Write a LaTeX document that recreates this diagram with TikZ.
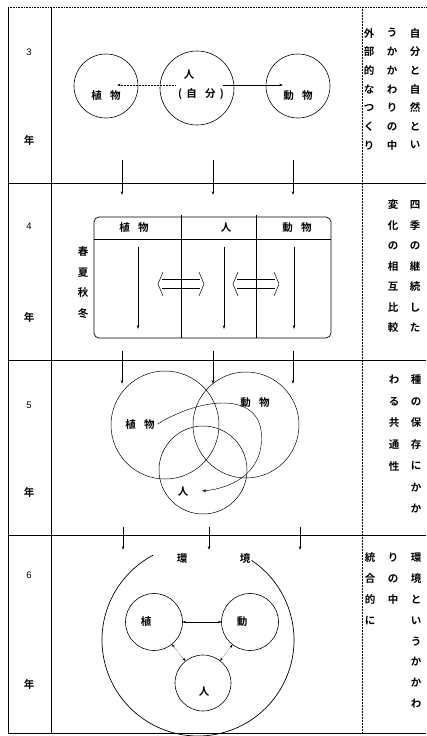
\documentclass[tikz,border=0pt]{standalone}
\usepackage{fontspec}
\newfontfamily\jp{Noto Sans CJK JP}[BoldFont={Noto Sans CJK JP Bold}]
\usetikzlibrary{arrows.meta,calc}
\begin{document}
\begin{tikzpicture}[x=1pt,y=-1pt,
  every node/.style={inner sep=0pt,outer sep=0pt},
  jtext/.style={font=\jp\bfseries\fontsize{10.5}{12}\selectfont},
  numtext/.style={font=\fontspec{Liberation Sans}\fontsize{9.5}{11}\selectfont},
  ring/.style={draw,circle,line width=0.6pt,minimum size=#1},
  arr/.style={-{Stealth[length=4pt,width=2.6pt]},line width=0.5pt},
  darr/.style={{Stealth[length=3.5pt,width=2.4pt]}-{Stealth[length=3.5pt,width=2.4pt]},line width=0.45pt},
  frame/.style={line width=0.9pt},
  sep/.style={line width=0.6pt}
]
\useasboundingbox (0,0) rectangle (426,736);
\fill[white] (0,0) rectangle (426,736);
% frame
\draw[frame] (8,7) -- (8,733);
\draw[frame] (51,7) -- (51,733);
\draw[sep,densely dotted] (8,7) -- (426,7);
\draw[frame] (8,733) -- (426,733);
\draw[sep] (8,183) -- (426,183);
\draw[sep] (8,360) -- (426,360);
\draw[sep] (8,535) -- (426,535);
\draw[densely dotted,line width=0.5pt] (362,7) -- (362,733);
% year labels
\node[numtext] (y3) at (29,52) {3};
\node[jtext] (y3n) at (29,140) {年};
\node[numtext] (y4) at (29,226) {4};
\node[jtext] (y4n) at (29,317) {年};
\node[numtext] (y5) at (29,405) {5};
\node[jtext] (y5n) at (29,492) {年};
\node[numtext] (y6) at (29,575) {6};
\node[jtext] (y6n) at (29,684) {年};
% right text columns
\foreach \c [count=\i] in {自,分,と,自,然,と,い}
  \node[jtext] (ra\i) at (415,{33+18.7*(\i-1)}) {\c};
\foreach \c [count=\i] in {う,か,か,わ,り,の,中}
  \node[jtext] (rb\i) at (392,{33+18.7*(\i-1)}) {\c};
\foreach \c [count=\i] in {外,部,的,な,つ,く,り}
  \node[jtext] (rc\i) at (369,{33+18.7*(\i-1)}) {\c};
\foreach \c [count=\i] in {四,季,の,継,続,し,た}
  \node[jtext] (sa\i) at (415,{205+20.5*(\i-1)}) {\c};
\foreach \c [count=\i] in {変,化,の,相,互,比,較}
  \node[jtext] (sb\i) at (393,{205+20.5*(\i-1)}) {\c};
\foreach \c [count=\i] in {種,の,保,存,に,か,か}
  \node[jtext] (ta\i) at (416,{380+21.5*(\i-1)}) {\c};
\foreach \c [count=\i] in {わ,る,共,通,性}
  \node[jtext] (tb\i) at (394,{380+21.5*(\i-1)}) {\c};
\foreach \c [count=\i] in {環,境,と,い,う,か,か,わ}
  \node[jtext] (ua\i) at (416,{558+20.8*(\i-1)}) {\c};
\foreach \c [count=\i] in {り,の,中}
  \node[jtext] (ub\i) at (393,{558+20.8*(\i-1)}) {\c};
\foreach \c [count=\i] in {統,合,的,に}
  \node[jtext] (uc\i) at (370,{558+20.8*(\i-1)}) {\c};

% ===== row 3 =====
\node[ring=64pt] (c3p) at (106,86) {};
\node[ring=74pt] (c3h) at (197,88) {};
\node[ring=64pt] (c3a) at (298,86) {};
\node[jtext] (l3p) at (106,96) {植\hspace{0.8em}物};
\node[jtext] (l3h) at (189,75) {人};
\node[jtext] (l3s) at (201,94) {(\hspace{0.4em}自\hspace{0.8em}分\hspace{0.4em})};
\node[jtext] (l3a) at (298,96) {動\hspace{0.8em}物};
\coordinate (a3l1) at (175,85);
\coordinate (a3l2) at (117,85);
\coordinate (a3r1) at (223,85);
\coordinate (a3r2) at (283,85);
\draw[arr,densely dotted,line width=0.6pt] (a3l1) -- (a3l2);
\draw[arr] (a3r1) -- (a3r2);
% arrows 3 -> 4
\foreach \x [count=\i] in {122,213,293}{
  \coordinate (d34s\i) at (\x,160);
  \coordinate (d34e\i) at (\x,195);
  \draw[arr,line width=0.7pt] (d34s\i) -- (d34e\i);
}

% ===== row 4 =====
\draw[line width=0.7pt,rounded corners=5pt] (94,217) rectangle (331,338);
\draw[line width=0.6pt] (94,239) -- (331,239);
\draw[line width=0.9pt] (181,215) -- (181,338);
\draw[line width=0.9pt] (256,215) -- (256,338);
\node[jtext] (h4p) at (134,228) {植\hspace{0.8em}物};
\node[jtext] (h4h) at (226,228) {人};
\node[jtext] (h4a) at (297,228) {動\hspace{0.8em}物};
\foreach \c [count=\i] in {春,夏,秋,冬}
  \node[jtext] (s4\i) at (83,{252+20.5*(\i-1)}) {\c};
\foreach \x [count=\i] in {138,224,294}{
  \coordinate (v4s\i) at (\x,247);
  \coordinate (v4e\i) at (\x,329);
  \draw[arr] (v4s\i) -- (v4e\i);
}
% double chevrons
\foreach \cx in {181,256}{
  \draw[line width=0.5pt] (\cx-18,272) -- (\cx-23,284) -- (\cx-18,296);
  \draw[line width=0.5pt] (\cx+18,272) -- (\cx+23,284) -- (\cx+18,296);
  \draw[line width=0.5pt] (\cx-19,279.5) -- (\cx+19,279.5);
  \draw[line width=0.5pt] (\cx-19,288.5) -- (\cx+19,288.5);
}
% arrows 4 -> 5
\foreach \x [count=\i] in {122,213,293}{
  \coordinate (d45s\i) at (\x,351);
  \coordinate (d45e\i) at (\x,384);
  \draw[arr,line width=0.7pt] (d45s\i) -- (d45e\i);
}

% ===== row 5 =====
\node[ring=108pt,line width=0.5pt] (c5p) at (165,425) {};
\node[ring=106pt,line width=0.5pt] (c5a) at (246,425) {};
\node[ring=88pt,line width=0.5pt] (c5h) at (203,470) {};
\node[jtext] (l5p) at (140,425) {植\hspace{0.8em}物};
\node[jtext] (l5a) at (255,403) {動\hspace{0.8em}物};
\node[jtext] (l5h) at (183,492) {人};
\draw[arr,line width=0.45pt] (l5p.east) ++(3,-1) .. controls (200,398) and (255,392) .. (261,430)
   .. controls (266,470) and (235,488) .. (202,491);
% arrows 5 -> 6
\foreach \x [count=\i] in {123,209,300}{
  \coordinate (d56s\i) at (\x,527);
  \coordinate (d56e\i) at (\x,550);
  \draw[arr,line width=0.7pt] (d56s\i) -- (d56e\i);
}

% ===== row 6 =====
\coordinate (bigc) at (198,640);
\draw[line width=0.7pt] (bigc) ++(-56:96) arc[start angle=-56,end angle=242,radius=96];
\node[jtext] (env1) at (182,559) {環};
\node[jtext] (env2) at (245,559) {境};
\node[ring=57pt] (c6p) at (154,622) {};
\node[ring=57pt] (c6a) at (250,622) {};
\node[ring=56pt] (c6h) at (203,683) {};
\node[jtext] (l6p) at (146,622) {植};
\node[jtext] (l6a) at (242,622) {動};
\node[jtext] (l6h) at (204,692) {人};
\draw[darr] (c6p) -- (c6a);
\draw[darr,densely dotted] (c6p) -- (c6h);
\draw[darr,densely dotted] (c6a) -- (c6h);
\end{tikzpicture}
\end{document}
